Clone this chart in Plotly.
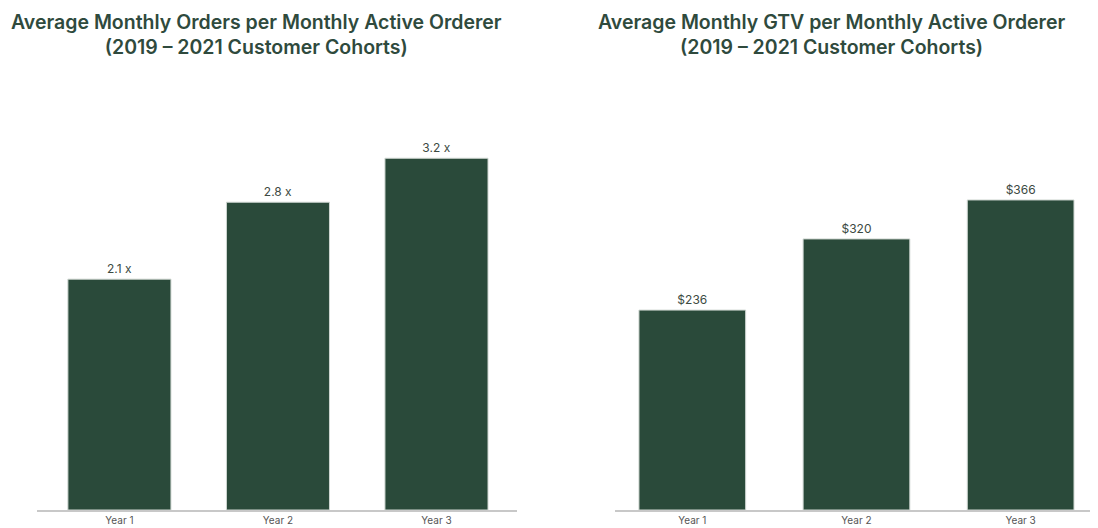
import plotly.graph_objects as go
from plotly.subplots import make_subplots

years = ["Year 1", "Year 2", "Year 3"]
orders_per_orderer = [2.1, 2.8, 3.2]
gtv_per_orderer = [236, 320, 366]

titles = [
    "Average Monthly Orders per Monthly Active Orderer<br>(2019 – 2021 Customer Cohorts)",
    "Average Monthly GTV per Monthly Active Orderer<br>(2019 – 2021 Customer Cohorts)",
]

bar_color = "#2a4a3a"
text_color = "#2f4a3d"
font_family = "Inter, Lato, sans-serif"

fig = make_subplots(rows=1, cols=2, horizontal_spacing=0.0)

fig.add_trace(
    go.Bar(
        x=years,
        y=orders_per_orderer,
        text=[f"{v} x" for v in orders_per_orderer],
        textposition="outside",
        cliponaxis=False,
        width=0.65,
        marker=dict(color=bar_color, line=dict(color="#cfd6d1", width=1)),
        textfont=dict(size=12, color="#3c4a42", family=font_family),
    ),
    row=1,
    col=1,
)

fig.add_trace(
    go.Bar(
        x=years,
        y=gtv_per_orderer,
        text=[f"${v}" for v in gtv_per_orderer],
        textposition="outside",
        cliponaxis=False,
        width=0.65,
        marker=dict(color=bar_color, line=dict(color="#cfd6d1", width=1)),
        textfont=dict(size=12, color="#3c4a42", family=font_family),
    ),
    row=1,
    col=2,
)

axis_common = dict(
    showline=True,
    linecolor="#c8c8c8",
    linewidth=2,
    showgrid=False,
    zeroline=False,
    ticks="",
    tickfont=dict(size=10, color="#555555", family=font_family),
)
fig.update_xaxes(**axis_common)
fig.update_xaxes(domain=[0, 0.4537], range=[-0.52, 2.508], row=1, col=1)
fig.update_xaxes(domain=[0.5463, 1.0], range=[-0.471, 2.453], row=1, col=2)

fig.update_yaxes(visible=False, showgrid=False, zeroline=False)
fig.update_yaxes(range=[0, 3.73], row=1, col=1)
fig.update_yaxes(range=[0, 484], row=1, col=2)

for x_pos, title in zip([0.207, 0.7514], titles):
    fig.add_annotation(
        text=title,
        x=x_pos,
        y=1.159,
        xref="paper",
        yref="paper",
        xanchor="center",
        yanchor="middle",
        showarrow=False,
        align="center",
        font=dict(size=19.5, color=text_color, family=font_family, weight=600),
    )

# page has an 8px body margin, so the figure is drawn 8px smaller
fig.update_layout(
    width=1090,
    height=520,
    showlegend=False,
    plot_bgcolor="white",
    paper_bgcolor="white",
    margin=dict(l=29, r=3, t=92, b=18),
)

fig.write_html("out.html")
